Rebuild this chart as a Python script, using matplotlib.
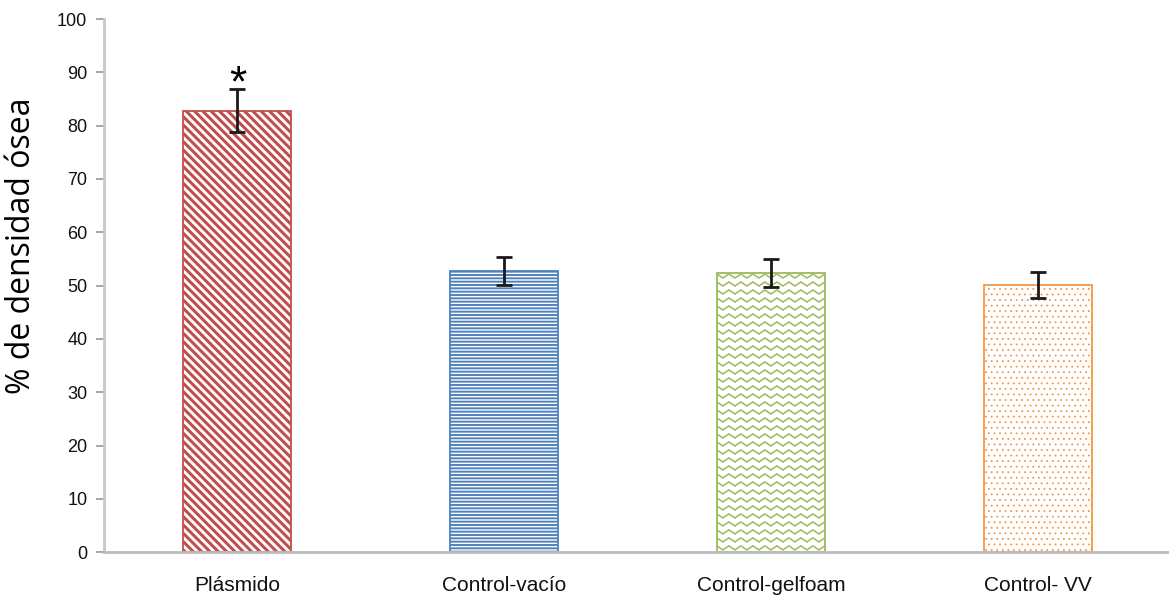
import numpy as np
import matplotlib
matplotlib.use('Agg')
import matplotlib.pyplot as plt

# data
groups = ['Plásmido', 'Control-vacío', 'Control-gelfoam', 'Control- VV']
means = [82.8, 52.8, 52.3, 50.1]
errors = [4.0, 2.6, 2.6, 2.4]
colors = ['#C0504D', '#4F81BD', '#9BBB59', '#F79646']
hatches = ['\\\\\\\\', '-----', None, '...']
hatch_lw = [2.2, 1.4, 1.0, 0.6]
y_ticks = list(range(0, 101, 10))

plt.rcParams['font.family'] = ['Liberation Sans', 'DejaVu Sans']
plt.rcParams['hatch.linewidth'] = 1.4

fig = plt.figure(figsize=(11.69, 5.95), dpi=100)
ax = fig.add_axes([0.089, 0.072, 0.9127, 0.896])

x = np.arange(len(groups))
width = 0.405
bars = ax.bar(x, means, width=width, color='white', linewidth=1.3, zorder=2)
for b, c, h, hl in zip(bars, colors, hatches, hatch_lw):
    b.set_edgecolor(c)
    if h:
        b.set_hatch(h)
        if hasattr(b, 'set_hatch_linewidth'):
            b.set_hatch_linewidth(hl)

# zigzag fill for the gelfoam bar (no such hatch in matplotlib)
gb = bars[2]
x0, w = gb.get_x(), gb.get_width()
zx = np.arange(x0, x0 + w + 0.05, 0.0225)
amp = 0.38
for yrow in np.arange(0.8, gb.get_height() + 1.5, 1.5):
    zy = yrow + amp * np.where(np.arange(len(zx)) % 2 == 0, 1, -1)
    line, = ax.plot(zx, zy, color=colors[2], lw=1.1, zorder=2.5)
    line.set_clip_path(gb)

ax.errorbar(x, means, yerr=errors, fmt='none', ecolor='#1a1a1a',
            elinewidth=2, capsize=6, capthick=2, zorder=3)

# significance mark over the first bar
ax.text(x[0], means[0] + errors[0] - 3.0, '*', ha='center', va='bottom',
        fontsize=32, color='black', zorder=4)

ax.set_xlim(-0.5, 3.5)
ax.set_ylim(0, 100)
ax.set_yticks(y_ticks)
ax.set_xticks(x)
ax.set_xticklabels(groups, fontsize=15, color='#111111')
ax.tick_params(axis='x', length=0, pad=17)
ax.tick_params(axis='y', labelsize=13, colors='#999999', labelcolor='#111111',
               length=6, width=1.2, direction='out', pad=6)
ax.set_ylabel('% de densidad ósea', fontsize=23, family=['Open Sans', 'DejaVu Sans'])
ax.yaxis.set_label_coords(-0.062, 0.574)

for s in ['top', 'right']:
    ax.spines[s].set_visible(False)
ax.spines['left'].set_color('#C8C8C8')
ax.spines['left'].set_linewidth(2)
ax.spines['bottom'].set_color('#BBBBBB')
ax.spines['bottom'].set_linewidth(2)

fig.savefig('out.png', dpi=100)
